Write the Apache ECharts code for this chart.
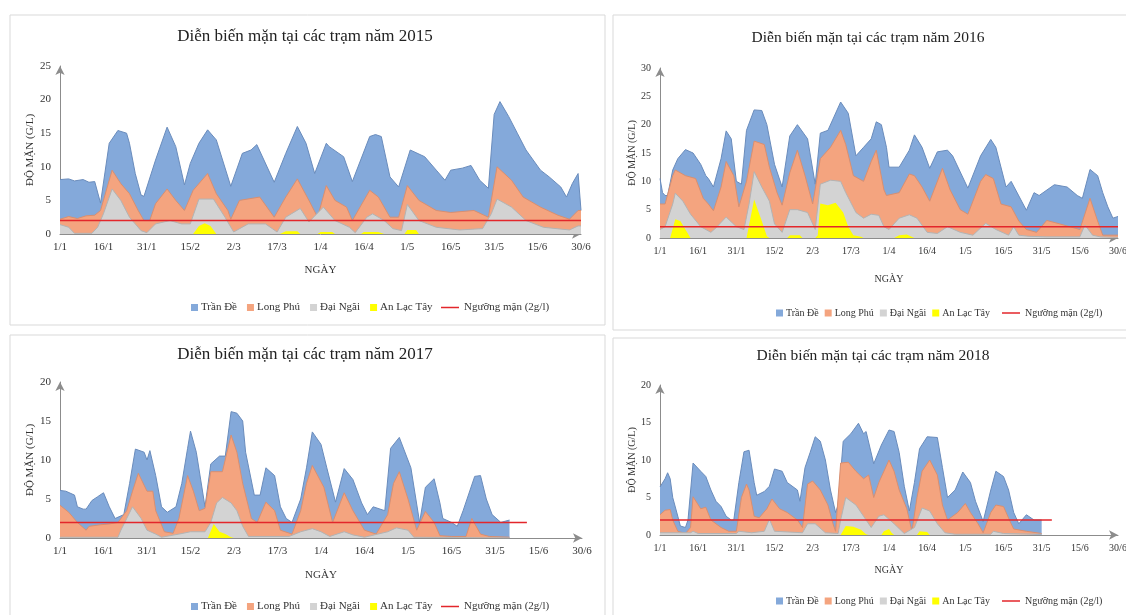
<!DOCTYPE html>
<html>
<head>
<meta charset="utf-8">
<script src="https://cdn.jsdelivr.net/npm/echarts@6/dist/echarts.min.js"></script>
<style>
html,body{margin:0;padding:0;background:#fff;}
#chart{width:1126px;height:615px;}
</style>
</head>
<body>
<div id="chart"></div>
<script>
// ---------------- DATA ----------------
// x = day index counted from 1/1 (0 .. 180 = 30/6), y = salinity g/l
const xTickLabels = ['1/1','16/1','31/1','15/2','2/3','17/3','1/4','16/4','1/5','16/5','31/5','15/6','30/6'];
const stationNames = ['Trần Đề','Long Phú','Đại Ngãi','An Lạc Tây'];
const thresholdName = 'Ngưỡng mặn (2g/l)';
const THRESHOLD = 2;
const titles = ['Diễn biến mặn tại các trạm năm 2015','Diễn biến mặn tại các trạm năm 2016','Diễn biến mặn tại các trạm năm 2017','Diễn biến mặn tại các trạm năm 2018'];
const yMax = [25, 30, 20, 20];
const thresholdEndDay = [180, 180, 161, 154];

// ---- 2015 ----
const tranDe2015 = [[0,8.1],[3,8.2],[5,7.9],[8,8.1],[10,7.7],[12,7.8],[14,4.6],[17,13.5],[20,15.4],[23,15],[24,13.5],[26,9],[28,5.8],[29,5.6],[33,11],[37,15.9],[40,13],[43,7.3],[45,10.5],[48,13.5],[51,15.5],[54,14],[59,7.1],[63,12],[66,12.5],[68,13.3],[74,7.7],[78,12],[82,16],[85,13.5],[88,9],[92,13.5],[93,13],[98,11.5],[101,7.8],[107,14.5],[109,14.8],[111,14.5],[114,8.5],[117,7],[121,12.5],[126,11.5],[130,9.5],[133,8],[135,9.5],[139,9.8],[142,10.2],[145,8],[148,6.8],[150,17.8],[152,19.7],[155,17.5],[158,15],[161,12.5],[166,9.5],[169,8.5],[173,7],[175,5.5],[177,7.5],[179,9],[180,3.5]];
const longPhu2015 = [[0,2.2],[3,2.6],[6,2.3],[9,2.7],[12,2.8],[14,3.5],[18,9.5],[21,7.5],[24,6],[27,3.5],[29,2],[31,2],[33,4.5],[37,6.7],[40,5],[43,3.5],[46,6.5],[51,9],[54,6],[58,3.5],[59,2.2],[62,5],[69,5.5],[74,2.5],[78,5.5],[82,8.2],[86,5],[89,2.5],[92,7.2],[95,5],[99,4],[101,2],[107,6.5],[110,5.5],[114,2.5],[117,2.5],[120,7.2],[124,5],[130,3.5],[135,3.2],[143,3.5],[148,2.5],[151,10],[156,8],[160,5.5],[166,4],[172,2.8],[176,2.2],[179,3.5],[180,3.5]];
const daiNgai2015 = [[0,1.4],[3,1],[5,0.1],[11,0.1],[13,1],[15,3],[18,6.7],[21,5],[24,2.5],[28,0.5],[30,0.2],[33,1.5],[38,2],[42,1.5],[45,1.5],[48,5.2],[53,5.2],[57,2.5],[60,0.3],[65,1.5],[71,1.5],[75,0.3],[78,2.5],[83,3.8],[86,1.8],[91,4],[95,2],[100,1],[102,0.2],[106,2.5],[108,3],[112,2],[115,0.8],[118,0.5],[120,4.4],[124,2],[130,1],[138,0.6],[146,0.8],[149,3],[151,5.2],[156,4],[161,2],[167,1],[176,0.6],[179,1.2],[180,1.2]];
const anLacTay2015 = [[0,0],[46,0],[48,1.2],[50,1.6],[52,1.2],[54,0],[76,0],[78,0.4],[82,0.4],[83,0],[89,0],[90,0.3],[94,0.3],[95,0],[104,0],[105,0.3],[110,0.3],[112,0],[119,0],[120,0.6],[123,0.6],[124,0],[180,0]];

// ---- 2016 ----
const tranDe2016 = [[0,10.5],[1,8],[2,7.5],[3,7.5],[5,12],[7,14],[10,15.6],[13,15],[16,13],[18,11],[19,10.5],[21,9],[24,14],[26,18.9],[28,17.5],[30,10],[32,9.5],[34,19],[37,22.6],[40,22.5],[42,20],[45,13],[48,9],[51,18],[54,20],[58,17.5],[61,9.5],[63,18.5],[66,19],[68,21],[71,24],[74,22],[77,14.5],[80,16],[83,17.5],[85,20.5],[87,20],[89,16],[90,12.5],[94,12.5],[98,15.5],[100,18.2],[103,16],[106,12.3],[109,15.2],[113,15.5],[115,14.5],[121,8.8],[126,14.5],[130,17.4],[132,16],[136,9],[138,10],[144,4.9],[147,8],[149,7.5],[155,9.4],[160,9],[164,7.5],[166,7],[169,12.1],[172,11],[174,8],[176,5.5],[178,3.5],[180,3.8]];
const longPhu2016 = [[0,6],[2,6],[5,11],[6,12],[10,11],[14,10.5],[17,7],[19,6],[21,4.8],[24,9],[26,13.5],[29,11],[31,5.5],[34,10],[37,17.1],[41,16.5],[43,12.5],[46,8],[48,5.8],[51,11.5],[54,15.5],[57,11],[60,6],[63,14],[67,16],[71,19],[73,16.5],[76,11],[80,10],[83,13.5],[85,15.5],[88,8.5],[89,7.5],[94,8],[98,11.3],[100,11],[103,9],[106,6.5],[111,12.3],[114,8.5],[118,5],[121,4.2],[126,10],[128,11.2],[131,10.5],[134,6],[138,5.5],[141,3],[144,1.5],[148,1],[152,3.1],[157,2.5],[161,2],[165,1.5],[169,7],[172,3],[174,0.5],[180,0.5]];
const daiNgai2016 = [[0,1.5],[2,2],[5,6],[6,7.9],[9,6.5],[12,4.2],[16,2],[20,1],[22,1.8],[26,3.7],[30,2],[33,1.5],[35,6],[37,11.7],[40,9],[43,6.5],[45,2.5],[48,1],[51,5],[54,5],[58,4.5],[61,1.5],[63,9.5],[67,10.2],[71,10],[73,8],[77,4.5],[80,3.5],[83,4.2],[86,4],[88,2],[90,1.5],[94,3.5],[98,4.1],[101,3.5],[105,1],[109,0.8],[113,2],[118,1],[123,0.5],[128,2.6],[132,1.5],[137,0.5],[139,2],[141,0.5],[145,0.3],[152,0.2],[165,0.2],[167,2.3],[170,0.5],[173,0.2],[180,0.1]];
const anLacTay2016 = [[0,0],[4,0],[6,3.3],[8,3],[10,1.5],[12,0],[34,0],[37,6.8],[40,3],[42,0.3],[43,0],[50,0],[51,0.5],[55,0.5],[56,0],[61,0],[62,0.5],[63,6.1],[66,5.8],[69,6.2],[72,4.5],[74,2],[76,0.5],[79,0.2],[80,0],[92,0],[94,0.5],[97,0.6],[100,0],[180,0]];

// ---- 2017 ----
const tranDe2017 = [[0,6.1],[2,6],[5,5.5],[6,4],[8,3.7],[9,3.7],[11,4.8],[13,5.3],[15,5.8],[17,4],[19,2.5],[22,3],[24,7],[26,11.4],[29,11],[30,10],[31,11.2],[33,8],[35,4],[37,3.3],[40,4],[42,7],[44,11.5],[45,13.7],[47,11],[50,4],[52,9.5],[55,10.5],[57,10.5],[59,16.2],[61,16],[63,15],[64,11],[67,5.5],[69,5.5],[71,9],[74,8],[76,4],[78,2.5],[80,2],[83,5],[85,9],[87,13.6],[90,12],[92,9],[95,4.6],[98,8.9],[101,7.5],[104,4.5],[106,3],[108,4],[112,3.5],[114,11.5],[117,12.9],[121,9],[124,2],[126,6.5],[129,7.6],[131,4.5],[132,2.5],[135,2],[137,1.5],[139,3.5],[143,7.9],[145,8],[147,5],[149,3],[152,2],[155,2.3]];
const longPhu2017 = [[0,4.2],[3,3.3],[6,2],[9,1],[10,1.5],[14,1.7],[17,1.8],[20,2],[23,3.5],[25,6],[27,8.3],[30,6],[32,6],[33,3.5],[36,0.8],[39,0.6],[41,2.5],[44,8],[46,6],[48,3.5],[50,3.8],[52,8.5],[56,8.5],[59,13.2],[61,11],[63,7],[66,2.5],[68,2],[71,4.6],[74,3.5],[76,1],[80,0.5],[83,3.5],[85,7],[87,9.3],[91,6.5],[94,2],[98,5.8],[101,3.5],[105,1],[109,0.5],[113,3],[115,7],[117,8.5],[120,5],[123,1],[126,3.4],[129,2],[131,0.3],[135,0.2],[140,0.2],[142,2.5],[145,0.5],[148,0.2],[155,0.1]];
const daiNgai2017 = [[0,0.1],[20,0.1],[21,1],[23,2.5],[25,4],[28,2.5],[30,1],[33,0.5],[35,0.1],[41,0.5],[45,0.8],[50,0.8],[52,2],[54,4.5],[56,5.2],[59,4.5],[61,3.5],[63,1.5],[65,0.2],[79,0.2],[83,0.8],[87,1.2],[90,0.8],[93,0.2],[98,0.8],[101,0.4],[105,0.1],[113,0.8],[116,1.3],[120,1],[122,0.1],[155,0]];
const anLacTay2017 = [[0,0],[51,0],[53,1.8],[55,0.8],[57,0.5],[59,0.1],[60,0],[155,0]];

// ---- 2018 ----
const tranDe2018 = [[0,6.4],[2,7.5],[3,8.3],[4,7.5],[5,5],[7,2.5],[8,1.2],[10,1],[11,2],[13,9.6],[16,8.5],[18,7.8],[20,6],[22,4.5],[24,3.8],[26,2.5],[28,2],[29,2],[31,7],[33,11.1],[35,11.3],[37,7],[38,5.3],[41,5.8],[43,6.5],[45,8.8],[48,8.5],[50,7],[54,6],[55,4.5],[57,9],[59,11],[61,13.1],[63,12.5],[65,10],[67,6],[69,3],[70,4],[72,12.5],[75,13.5],[78,14.9],[80,13.5],[81,13.8],[84,9.5],[87,12],[90,14],[92,13.8],[94,11],[96,6.5],[98,3.2],[100,7],[102,11.5],[105,13.1],[109,13],[111,9],[113,5],[116,6],[119,8.4],[122,7],[124,4.5],[127,1.8],[130,6],[132,8.5],[135,7.8],[137,6],[139,3],[141,1.5],[144,2.7],[147,2],[150,2]];
const longPhu2018 = [[0,2.7],[2,3.3],[4,3.4],[5,2],[7,0.5],[10,0.2],[12,1],[13,5.1],[16,3.5],[18,3.7],[20,2],[24,1],[27,0.5],[30,0.5],[32,5],[34,6.8],[35,6],[37,2.5],[39,2.3],[42,3.5],[44,4.8],[47,3.5],[50,3],[54,2],[56,1],[58,6.8],[60,7.2],[63,6],[66,4],[68,1.5],[69,0.5],[71,9.6],[74,9.7],[77,8.5],[80,7.5],[82,8],[84,5],[86,7],[90,10],[92,8.5],[94,6],[97,3.5],[99,0.5],[101,5],[103,8.5],[106,10],[109,8],[111,4],[113,2],[117,3],[120,4.2],[122,3],[125,1.5],[127,0.3],[130,3],[132,4],[135,3.8],[138,1.5],[139,0.8],[144,0.5],[150,0.2]];
const daiNgai2018 = [[0,0.3],[12,0.3],[13,0.5],[15,0.2],[30,0.2],[31,0.5],[36,0.3],[41,0.5],[43,2.1],[45,0.5],[56,0.3],[58,1.5],[61,1.5],[65,0.3],[70,0.2],[71,2],[73,5],[77,4],[80,2.5],[83,1],[86,2.5],[88,2.7],[92,1.5],[96,0.2],[100,1],[103,3.6],[106,3.2],[109,1.5],[112,0.3],[116,0.1],[130,0.1],[131,0.5],[135,0.2],[150,0.1]];
const anLacTay2018 = [[0,0],[71,0],[73,1.2],[76,1.1],[79,0.7],[81,0.1],[82,0],[87,0],[88,0.5],[90,0.8],[91,0.3],[92,0],[101,0],[102,0.5],[105,0.4],[106,0],[150,0]];

const yearData = [
  [tranDe2015, longPhu2015, daiNgai2015, anLacTay2015],
  [tranDe2016, longPhu2016, daiNgai2016, anLacTay2016],
  [tranDe2017, longPhu2017, daiNgai2017, anLacTay2017],
  [tranDe2018, longPhu2018, daiNgai2018, anLacTay2018]
];

// ---------------- LAYOUT / STYLE ----------------
const FONT = 'Liberation Serif';
const TXT = '#333333';
const areaColors = ['#84a9da', '#f4a47f', '#d3d3d3', '#ffff00'];
const edgeColors = ['#6a8cbc', '#d98f70', '#b3b3b3', '#ffff00'];
const RED = '#e3262b';

const layout = [
  {grid:{left:60, top:66, width:521, height:168}, cx:305, ty:28, tfs:17, fs:11, yGap:22, xGap:31, lTop:297, lLeft:186, lGap:10, lineLeft:436},
  {grid:{left:660, top:68, width:458, height:170}, cx:868, ty:30, tfs:15.5, fs:10, yGap:18, xGap:36, lTop:303, lLeft:771, lGap:6, lineLeft:997},
  {grid:{left:60, top:382, width:522, height:156}, cx:305, ty:346, tfs:17, fs:11, yGap:22, xGap:32, lTop:596, lLeft:186, lGap:10, lineLeft:436},
  {grid:{left:660, top:385, width:458, height:150}, cx:873, ty:348, tfs:15.5, fs:10, yGap:18, xGap:30, lTop:591, lLeft:771, lGap:6, lineLeft:997}
];

const grids = [], xAxes = [], yAxes = [], series = [], legends = [], titleArr = [];

layout.forEach((L, p) => {
  grids.push(Object.assign({containLabel:false, outerBoundsMode:'none'}, L.grid));
  titleArr.push({
    text: titles[p], left: L.cx, top: L.ty, textAlign: 'center', padding: 0,
    textStyle: {fontFamily: FONT, fontSize: L.tfs, fontWeight: 'normal', color: '#222'}
  });
  const axisLine = {show:true, symbol:['none','arrow'], symbolSize:[7,9], lineStyle:{color:'#8c8c8c', width:1}};
  xAxes.push({
    gridIndex: p, type: 'value', min: 0, max: 180, interval: 15,
    name: 'NGÀY', nameLocation: 'middle', nameGap: L.xGap,
    nameTextStyle: {fontFamily: FONT, fontSize: L.fs, color: TXT},
    axisLine: axisLine, axisTick: {show:false}, splitLine: {show:false},
    axisLabel: {fontFamily: FONT, fontSize: L.fs, color: TXT, margin: 8,
      formatter: v => xTickLabels[Math.round(v / 15)]}
  });
  yAxes.push({
    gridIndex: p, type: 'value', min: 0, max: yMax[p], interval: 5,
    name: 'ĐỘ MẶN (G/L)', nameLocation: 'middle', nameGap: L.yGap,
    nameTextStyle: {fontFamily: FONT, fontSize: L.fs, color: TXT},
    axisLine: axisLine, axisTick: {show:false}, splitLine: {show:false},
    axisLabel: {fontFamily: FONT, fontSize: L.fs, color: TXT, margin: 9}
  });
  yearData[p].forEach((arr, s) => {
    series.push({
      type: 'line', name: stationNames[s], xAxisIndex: p, yAxisIndex: p,
      data: arr, showSymbol: false, symbol: 'none', smooth: false,
      color: areaColors[s],
      lineStyle: {color: edgeColors[s], width: s === 3 ? 0 : 1},
      areaStyle: {color: areaColors[s], opacity: 1},
      z: 2 + s, silent: true
    });
  });
  series.push({
    type: 'line', name: thresholdName, xAxisIndex: p, yAxisIndex: p,
    data: [[0, THRESHOLD], [thresholdEndDay[p], THRESHOLD]],
    showSymbol: false, symbol: 'none', color: RED,
    lineStyle: {color: RED, width: 1.5}, z: 10, silent: true
  });
  legends.push({
    left: L.lLeft, top: L.lTop, itemWidth: 7, itemHeight: 7, itemGap: L.lGap, icon: 'rect',
    selectedMode: false,
    textStyle: {fontFamily: FONT, fontSize: L.fs, color: TXT, padding:[0,0,0,-2]},
    data: stationNames.map((n, i) => ({name: n, itemStyle: {color: areaColors[i], borderWidth: 0}}))
  });
  legends.push({
    left: L.lineLeft, top: L.lTop, itemWidth: 18, itemHeight: 1.5, selectedMode: false, icon: 'rect',
    textStyle: {fontFamily: FONT, fontSize: L.fs, color: TXT},
    data: [{name: thresholdName, itemStyle: {color: RED, borderWidth: 0}}]
  });
});

const chart = echarts.init(document.getElementById('chart'), null, {renderer: 'canvas'});
chart.setOption({
  animation: false,
  backgroundColor: '#ffffff',
  title: titleArr,
  grid: grids,
  xAxis: xAxes,
  yAxis: yAxes,
  legend: legends,
  series: series,
  graphic: [
    {type:'rect', shape:{x:10, y:15, width:595, height:310}, style:{fill:'none', stroke:'#d9d9d9', lineWidth:1}, silent:true, z:-1},
    {type:'rect', shape:{x:613, y:15, width:520, height:315}, style:{fill:'none', stroke:'#d9d9d9', lineWidth:1}, silent:true, z:-1},
    {type:'rect', shape:{x:10, y:335, width:595, height:290}, style:{fill:'none', stroke:'#d9d9d9', lineWidth:1}, silent:true, z:-1},
    {type:'rect', shape:{x:613, y:338, width:520, height:290}, style:{fill:'none', stroke:'#d9d9d9', lineWidth:1}, silent:true, z:-1}
  ]
});
</script>
</body>
</html>
